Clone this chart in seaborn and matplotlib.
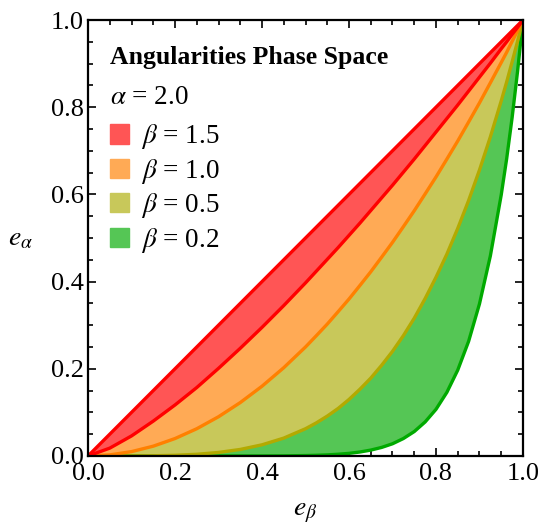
import matplotlib
matplotlib.use("Agg")
import matplotlib.pyplot as plt
import matplotlib.patches as mpatches
from matplotlib.ticker import MultipleLocator
import seaborn as sns
import pandas as pd

# valores (e_beta en el eje x)
e_beta = [0, 0.05, 0.1, 0.15, 0.2, 0.25, 0.3, 0.35, 0.4, 0.45, 0.5, 0.525, 0.55, 0.575,
          0.6, 0.625, 0.65, 0.675, 0.7, 0.725, 0.75, 0.775, 0.8, 0.825, 0.85, 0.875,
          0.9, 0.925, 0.95, 0.9625, 0.975, 0.9875, 1.0]

# borde superior (diagonal)
limite_sup = list(e_beta)

# bordes inferiores para cada beta
b15 = [0, 0.018, 0.046, 0.080, 0.117, 0.157, 0.201, 0.247, 0.295, 0.345, 0.397, 0.424,
       0.451, 0.478, 0.506, 0.534, 0.563, 0.592, 0.621, 0.651, 0.681, 0.712, 0.743,
       0.774, 0.805, 0.837, 0.869, 0.901, 0.934, 0.950, 0.967, 0.983, 1.0]
b10 = [0, 0.0025, 0.010, 0.0225, 0.040, 0.0625, 0.090, 0.1225, 0.160, 0.2025, 0.250,
       0.276, 0.3025, 0.331, 0.360, 0.391, 0.4225, 0.456, 0.490, 0.526, 0.5625, 0.601,
       0.640, 0.681, 0.7225, 0.766, 0.810, 0.856, 0.9025, 0.926, 0.951, 0.975, 1.0]
b05 = [0, 0.0, 0.0001, 0.0005, 0.0016, 0.0039, 0.0081, 0.015, 0.0256, 0.041, 0.0625,
       0.076, 0.0915, 0.109, 0.1296, 0.153, 0.1785, 0.208, 0.240, 0.276, 0.316, 0.361,
       0.410, 0.463, 0.522, 0.586, 0.656, 0.732, 0.8145, 0.858, 0.904, 0.951, 1.0]
b02 = [0, 0, 0, 0, 0, 0, 0.000006, 0.00003, 0.0001, 0.0003, 0.001, 0.0016, 0.0025, 0.004,
       0.006, 0.0091, 0.0135, 0.0196, 0.028, 0.040, 0.056, 0.078, 0.107, 0.146, 0.197,
       0.263, 0.349, 0.459, 0.599, 0.682, 0.776, 0.882, 1.0]

etiquetas = [r"$\beta$ = 1.5", r"$\beta$ = 1.0", r"$\beta$ = 0.5", r"$\beta$ = 0.2"]
curvas = [b15, b10, b05, b02]
relleno = ["#ff5555", "#ffaa55", "#c8c85a", "#55c655"]
linea = ["#ff0000", "#ff8000", "#b3aa00", "#00aa00"]

sns.set_style("ticks")
plt.rcParams["font.family"] = ["Liberation Serif", "DejaVu Serif"]
plt.rcParams["mathtext.fontset"] = "stix"
plt.rcParams["text.color"] = "black"
plt.rcParams["axes.labelcolor"] = "black"
plt.rcParams["xtick.color"] = "black"
plt.rcParams["ytick.color"] = "black"
plt.rcParams["axes.edgecolor"] = "black"

fig = plt.figure(figsize=(5.41, 5.28), dpi=100)
ax = fig.add_axes([0.1627, 0.1364, 0.804, 0.8257])

# de atras hacia adelante: verde primero, rojo al final
for i in [3, 2, 1, 0]:
    ax.fill_between(e_beta, limite_sup, curvas[i], color=relleno[i], linewidth=0, zorder=1 + (3 - i))

for i in [3, 2, 1, 0]:
    df = pd.DataFrame({"x": e_beta, "y": curvas[i]})
    sns.lineplot(data=df, x="x", y="y", ax=ax, color=linea[i], linewidth=2.4,
                 estimator=None, sort=False, zorder=6 + (3 - i))

df = pd.DataFrame({"x": e_beta, "y": limite_sup})
sns.lineplot(data=df, x="x", y="y", ax=ax, color="#ff0000", linewidth=2.4,
             estimator=None, sort=False, zorder=10)

ax.set_xlim(0, 1)
ax.set_ylim(0, 1)
ax.xaxis.set_major_locator(MultipleLocator(0.2))
ax.yaxis.set_major_locator(MultipleLocator(0.2))
ax.xaxis.set_minor_locator(MultipleLocator(0.05))
ax.yaxis.set_minor_locator(MultipleLocator(0.05))
ax.tick_params(which="both", direction="in", top=True, right=True, width=1.2, labelsize=19)
ax.tick_params(which="major", length=6, pad=3)
ax.tick_params(axis="x", which="major", pad=5)
ax.tick_params(which="minor", length=3.5)
for s in ax.spines.values():
    s.set_linewidth(1.6)
    s.set_zorder(20)

ax.set_xlabel(r"$e_\beta$", fontsize=20)
ax.set_ylabel(r"$e_\alpha$", fontsize=20, rotation=0)
ax.xaxis.set_label_coords(0.5, -0.1)
ax.yaxis.set_label_coords(-0.155, 0.47)

ax.text(0.05, 0.913, "Angularities Phase Space", transform=ax.transAxes,
        fontsize=18.5, fontweight="bold", va="center", ha="left", zorder=30)
ax.text(0.05, 0.823, r"$\alpha$ = 2.0", transform=ax.transAxes,
        fontsize=19.5, va="center", ha="left", zorder=30)

parches = [mpatches.Patch(color=relleno[i], label=etiquetas[i]) for i in range(4)]
leg = ax.legend(handles=parches, loc="upper left", bbox_to_anchor=(0.025, 0.79),
                frameon=False, fontsize=19.5, handlelength=0.72, handleheight=0.72,
                handletextpad=0.45, labelspacing=0.2, borderaxespad=0)
leg.set_zorder(30)

fig.savefig("out.png", dpi=100)
